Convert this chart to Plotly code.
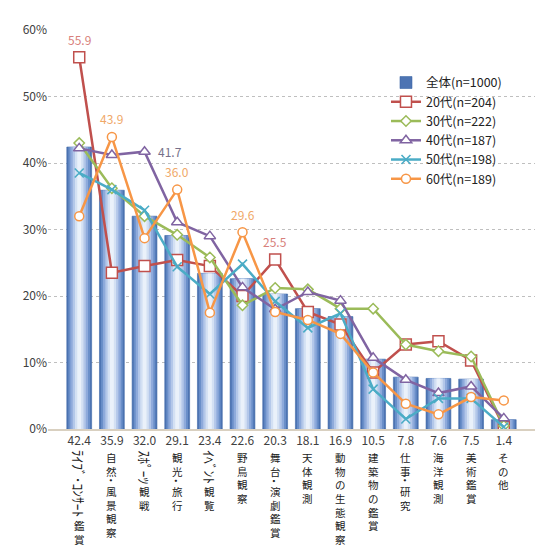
import plotly.graph_objects as go

categories = ["ﾗｲﾌﾞ･ｺﾝｻｰﾄ鑑賞", "自然･風景観察", "ｽﾎﾟｰﾂ観戦", "観光･旅行", "ｲﾍﾞﾝﾄ観覧",
              "野鳥観察", "舞台･演劇鑑賞", "天体観測", "動物の生態観察", "建築物の鑑賞",
              "仕事･研究", "海洋観測", "美術鑑賞", "その他"]
total = [42.4, 35.9, 32.0, 29.1, 23.4, 22.6, 20.3, 18.1, 16.9, 10.5, 7.8, 7.6, 7.5, 1.4]
age20 = [55.9, 23.5, 24.5, 25.4, 24.5, 20.0, 25.5, 17.6, 15.7, 8.5, 12.7, 13.2, 10.3, 0.3]
age30 = [43.0, 36.2, 32.0, 29.2, 25.8, 18.6, 21.2, 21.0, 18.1, 18.1, 12.7, 11.7, 10.9, 0.5]
age40 = [42.2, 41.2, 41.7, 31.1, 29.0, 21.3, 18.0, 20.6, 19.3, 10.7, 7.4, 5.4, 6.4, 1.6]
age50 = [38.5, 36.0, 32.9, 24.4, 20.3, 24.8, 19.2, 15.2, 17.4, 6.0, 1.5, 4.6, 4.6, 0.3]
age60 = [32.0, 43.9, 28.7, 36.0, 17.5, 29.6, 17.6, 16.4, 14.3, 8.5, 3.8, 2.2, 4.8, 4.3]
series_names = ["20代(n=204)", "30代(n=222)", "40代(n=187)", "50代(n=198)", "60代(n=189)"]
total_name = "全体(n=1000)"
y_ticks = [0, 10, 20, 30, 40, 50, 60]

FONT = "Noto Sans CJK JP"
fig = go.Figure()

# gradient-like bars via overlaid layers
layers = [(0.76, "#4d74b3"), (0.66, "#6a8fc9"), (0.54, "#8eaadb"),
          (0.40, "#b3c7e9"), (0.26, "#d3e0f3"), (0.12, "#eaf1fa")]
for k, (w, c) in enumerate(layers):
    fig.add_trace(go.Bar(
        x=categories, y=total, width=w, name=total_name,
        marker=dict(color=c, line=dict(width=0.6 if k == 0 else 0, color="#3d66a6")),
        showlegend=(k == 0), legendgroup="total", hoverinfo="skip"))

styles = [
    (age20, "#c0504d", dict(symbol="square", size=11)),
    (age30, "#9bbb59", dict(symbol="diamond", size=8)),
    (age40, "#8064a2", dict(symbol="triangle-up", size=10)),
    (age50, "#4bacc6", dict(symbol="x-thin", size=9)),
    (age60, "#f79646", dict(symbol="circle", size=9)),
]
for (vals, col, mk), nm in zip(styles, series_names):
    if mk["symbol"] == "x-thin":
        marker = dict(symbol="x-thin", size=mk["size"], color=col, line=dict(color=col, width=1.6))
    else:
        marker = dict(symbol=mk["symbol"], size=mk["size"], color="white", line=dict(color=col, width=1.5))
    fig.add_trace(go.Scatter(x=categories, y=vals, mode="lines+markers", name=nm,
                             line=dict(color=col, width=2.5), marker=marker))

# highlighted value labels
callouts = [
    (categories[0], age20[0], "#d87f7b", 0, 18),
    (categories[1], age60[1], "#f0a868", 0, 19),
    (categories[2], age40[2], "#76708a", 25, 0),
    (categories[3], age60[3], "#f0a868", 0, 18),
    (categories[5], age60[5], "#f0a868", 0, 18),
    (categories[6], age20[6], "#d87f7b", 0, 18),
]
for x, y, col, dx, dy in callouts:
    fig.add_annotation(x=x, y=y, text=f"{y:.1f}", showarrow=False, xshift=dx, yshift=dy,
                       font=dict(family=FONT, size=12, color=col))

# vertical (tategaki-style) category labels
def is_half(ch):
    return 0xFF61 <= ord(ch) <= 0xFF9F

FS = 10.5
LINE = 1.3 * FS
HFS = 13.5
HALF = 0.5 * HFS
for cat in categories:
    runs = []
    for ch in cat:
        h = is_half(ch)
        if runs and runs[-1][0] == h:
            runs[-1][1] += ch
        else:
            runs.append([h, ch])
    off = 20
    for h, txt in runs:
        if h:
            fig.add_annotation(x=cat, y=0, yref="paper", text=txt, textangle=90, showarrow=False,
                               yanchor="top", xanchor="center", yshift=-off, borderpad=0,
                               font=dict(family=FONT, size=HFS, color="#222222"))
            off += len(txt) * HALF
        else:
            fig.add_annotation(x=cat, y=0, yref="paper", text="<br>".join(txt), showarrow=False,
                               yanchor="top", xanchor="center", yshift=-off, borderpad=0,
                               font=dict(family=FONT, size=FS, color="#222222"))
            off += len(txt) * LINE

fig.update_layout(
    width=550, height=560, barmode="overlay",
    margin=dict(l=40, r=23, t=16, b=139),
    paper_bgcolor="white", plot_bgcolor="white",
    font=dict(family=FONT, size=12, color="#404040"),
    legend=dict(x=0.694, y=0.905, xanchor="left", yanchor="top", bgcolor="rgba(0,0,0,0)",
                font=dict(family=FONT, size=12.5, color="#222222"), itemwidth=30,
                tracegroupgap=0, traceorder="normal"),
    xaxis=dict(tickmode="array", tickvals=categories, ticktext=[f"{v:.1f}" for v in total],
               showline=True, linecolor="#d9d0c0", linewidth=1.5, ticks="",
               tickfont=dict(family=FONT, size=12, color="#404040"), showgrid=False),
    yaxis=dict(range=[0, 60], tickvals=y_ticks, ticktext=[f"{v}%" for v in y_ticks],
               showgrid=True, gridcolor="#bfbfbf", griddash="dot", gridwidth=1,
               zeroline=False, ticks="", tickfont=dict(family=FONT, size=12, color="#404040")),
    showlegend=True,
)

fig.write_html("out.html")
